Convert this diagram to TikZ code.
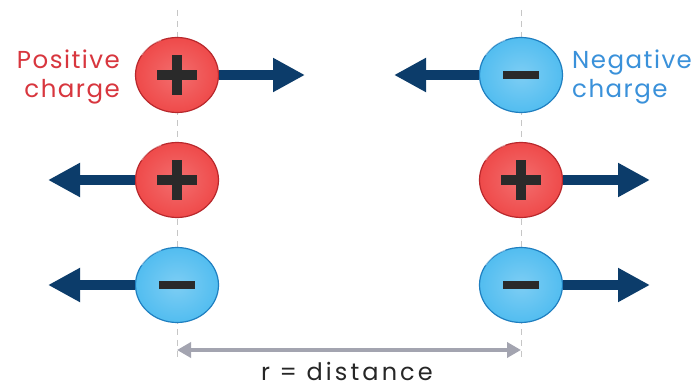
\documentclass[tikz,border=0pt]{standalone}
\usepackage{fontspec}
\setmainfont{Poppins}
\newfontfamily\labfont{Poppins}[LetterSpace=6]
\newfontfamily\distfont{Poppins}[LetterSpace=13]
\usetikzlibrary{arrows.meta,shapes.geometric}
\definecolor{posred}{HTML}{EF4A4A}
\definecolor{posedge}{HTML}{B8282C}
\definecolor{negblue}{HTML}{52BDF0}
\definecolor{negedge}{HTML}{1F7FC0}
\definecolor{navy}{HTML}{0C3C6A}
\definecolor{labred}{HTML}{D8363E}
\definecolor{labblue}{HTML}{3A91DA}
\definecolor{distgray}{HTML}{A3A4B0}
\definecolor{signdark}{HTML}{2A2A2A}
\tikzset{
  chargebase/.style={ellipse, minimum width=83pt, minimum height=75pt, line width=1.2pt, inner sep=0pt},
  poscharge/.style={chargebase, draw=posedge, inner color=posred!80!white, outer color=posred},
  negcharge/.style={chargebase, draw=negedge, inner color=negblue!75!white, outer color=negblue},
  force/.style={navy, line width=10pt, -{Triangle[length=32pt,width=32pt]}},
  guide/.style={gray!45, line width=0.8pt, dash pattern=on 6pt off 5pt},
  txtlabel/.style={font=\labfont\fontsize{24.5}{29}\selectfont, inner sep=0pt}
}
\begin{document}
\begin{tikzpicture}[x=1pt,y=-1pt]
\useasboundingbox (0,0) rectangle (694,390);
\fill[white] (0,0) rectangle (694,390);
% guide lines
\coordinate (gl1) at (177,10); \coordinate (gl2) at (177,360);
\coordinate (gr1) at (521,10); \coordinate (gr2) at (521,360);
\draw[guide] (gl1) -- (gl2);
\draw[guide] (gr1) -- (gr2);
% arrow targets
\coordinate (t1) at (305,75);
\coordinate (t2) at (394,75);
\coordinate (t3) at (48,180);
\coordinate (t4) at (650,180);
\coordinate (t5) at (48,285);
\coordinate (t6) at (650,285);
% charges
\node[poscharge] (c1) at (177,75) {};
\node[negcharge] (c2) at (521,75) {};
\node[poscharge] (c3) at (177,180) {};
\node[poscharge] (c4) at (521,180) {};
\node[negcharge] (c5) at (177,285) {};
\node[negcharge] (c6) at (521,285) {};
% forces
\draw[force] (c1.east) -- (t1);
\draw[force] (c2.west) -- (t2);
\draw[force] (c3.west) -- (t3);
\draw[force] (c4.east) -- (t4);
\draw[force] (c5.west) -- (t5);
\draw[force] (c6.east) -- (t6);
% highlights
\foreach \c in {c1,c2,c3,c4,c5,c6}{
  \draw[white, opacity=0.5, line width=2pt, line cap=round]
    (\c.150) to[bend left=20] (\c.115);
}
% signs
\foreach \c in {c1,c3,c4}{
  \fill[signdark] ([shift={(-20pt,-5pt)}]\c.center) rectangle ([shift={(20pt,5pt)}]\c.center);
  \fill[signdark] ([shift={(-5pt,-20pt)}]\c.center) rectangle ([shift={(5pt,20pt)}]\c.center);
}
\foreach \c in {c2,c5,c6}{
  \fill[signdark] ([shift={(-18pt,-4pt)}]\c.center) rectangle ([shift={(18pt,4pt)}]\c.center);
}
% labels
\node[txtlabel, text=labred, align=right, anchor=east] (lp) at (120,77) {Positive\\charge};
\node[txtlabel, text=labblue, align=left, anchor=west] (ln) at (572,77) {Negative\\charge};
% distance
\coordinate (d1) at (177,350);
\coordinate (d2) at (521,350);
\draw[distgray, line width=3.5pt, {Triangle[length=14pt,width=15pt]}-{Triangle[length=14pt,width=15pt]}] (d1) -- (d2);
\node[inner sep=0pt, text=black!85, font=\distfont\fontsize{24}{28}\selectfont, anchor=base] (dist) at (347,381) {r = distance};
\end{tikzpicture}
\end{document}
